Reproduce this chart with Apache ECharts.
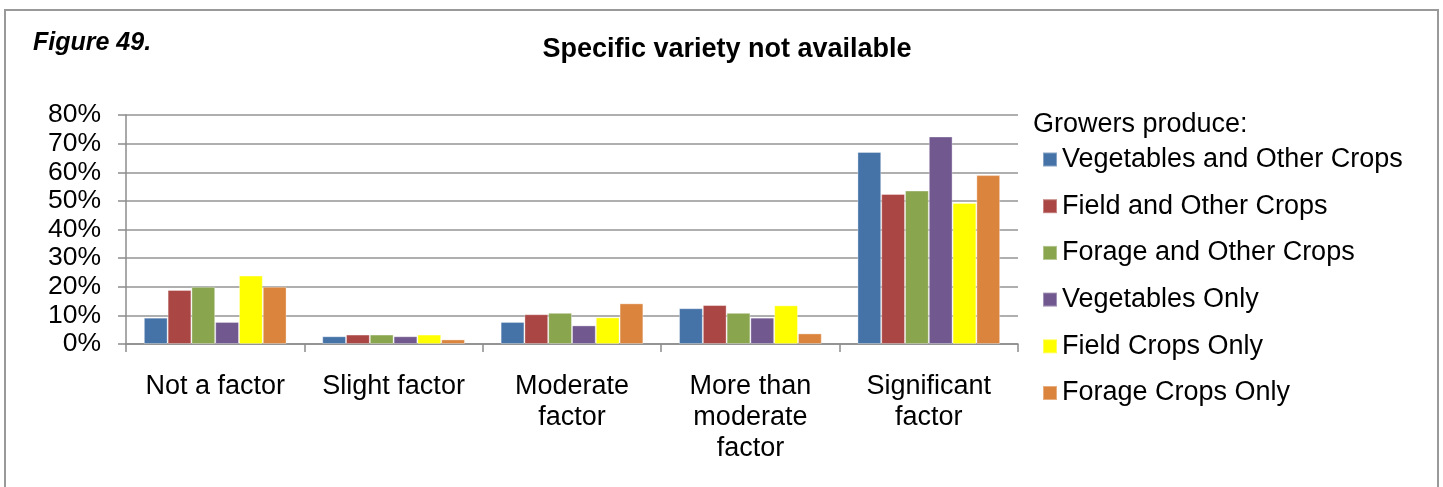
<!DOCTYPE html>
<html>
<head>
<meta charset="utf-8">
<script src="https://cdn.jsdelivr.net/npm/echarts@6/dist/echarts.min.js"></script>
<style>
html,body{margin:0;padding:0;background:#fff;}
#chart{width:1443px;height:487px;}
</style>
</head>
<body>
<div id="chart"></div>
<script>
var categories = ['Not a factor', 'Slight factor', 'Moderate\nfactor', 'More than\nmoderate\nfactor', 'Significant\nfactor'];
var seriesNames = ['Vegetables and Other Crops', 'Field and Other Crops', 'Forage and Other Crops', 'Vegetables Only', 'Field Crops Only', 'Forage Crops Only'];
var vegOther    = [9.2, 2.7, 7.7, 12.5, 67.1];
var fieldOther  = [18.9, 3.3, 10.4, 13.6, 52.4];
var forageOther = [20.0, 3.3, 10.9, 10.9, 53.6];
var vegOnly     = [7.7, 2.7, 6.5, 9.2, 72.5];
var fieldOnly   = [23.9, 3.3, 9.3, 13.5, 49.3];
var forageOnly  = [20.0, 1.6, 14.2, 3.7, 59.0];
var yTicks = [0, 10, 20, 30, 40, 50, 60, 70, 80];
var colors = ['#4572A7', '#AA4643', '#89A54E', '#71588F', '#FFFF00', '#DB843D'];

var seriesData = [vegOther, fieldOther, forageOther, vegOnly, fieldOnly, forageOnly];
var font = '"Liberation Sans", Arial, sans-serif';

var chart = echarts.init(document.getElementById('chart'));
chart.setOption({
  animation: false,
  backgroundColor: '#fff',
  color: colors,
  textStyle: { fontFamily: font },
  graphic: [
    { type: 'rect', shape: { x: 5, y: 10, width: 1433, height: 500 }, style: { fill: 'none', stroke: '#999', lineWidth: 2 }, silent: true },
    { type: 'text', left: 33, top: 31, style: { text: 'Figure 49.', font: 'italic bold 25px ' + font, fill: '#000' } },
    { type: 'text', left: 1033, top: 111, style: { text: 'Growers produce:', font: '27px ' + font, fill: '#000' } }
  ],
  title: {
    text: 'Specific variety not available',
    left: 722, top: 31, textAlign: 'center',
    textStyle: { fontFamily: font, fontWeight: 'bold', fontSize: 27, color: '#000' }
  },
  legend: {
    orient: 'vertical',
    left: 1042, top: 146,
    padding: 0,
    itemWidth: 14, itemHeight: 14,
    itemGap: 19.7,
    icon: 'rect',
    textStyle: { fontFamily: font, fontSize: 27, lineHeight: 25, color: '#000' },
    data: seriesNames
  },
  grid: { left: 126, right: 425, top: 115, bottom: 143, containLabel: false },
  xAxis: {
    type: 'category',
    data: categories,
    axisLine: { lineStyle: { color: '#8c8c8c', width: 1.5 } },
    axisTick: { show: true, length: 8, lineStyle: { color: '#8c8c8c', width: 1.5 } },
    axisLabel: { color: '#000', fontSize: 27, lineHeight: 31, margin: 27, fontFamily: font, interval: 0 }
  },
  yAxis: {
    type: 'value',
    min: 0, max: 80, interval: 10,
    axisLine: { show: true, lineStyle: { color: '#8c8c8c', width: 1.5 } },
    axisTick: { show: true, length: 8, lineStyle: { color: '#8c8c8c', width: 1.5 } },
    splitLine: { lineStyle: { color: '#959595', width: 1.5 } },
    axisLabel: { color: '#000', fontSize: 26.5, margin: 25, fontFamily: font,
      formatter: function (v) { return yTicks.indexOf(v) >= 0 ? v + '%' : ''; } }
  },
  series: seriesNames.map(function (name, i) {
    return {
      name: name,
      type: 'bar',
      data: seriesData[i],
      barGap: '0%',
      barCategoryGap: '20%',
      itemStyle: { color: colors[i], borderColor: 'rgba(255,255,255,0.35)', borderWidth: 1 }
    };
  })
});
</script>
</body>
</html>
